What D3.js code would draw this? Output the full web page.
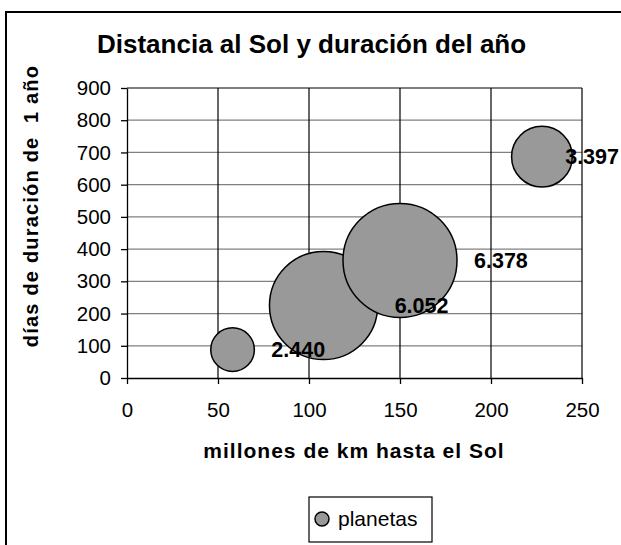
<!DOCTYPE html>
<html>
<head>
<meta charset="utf-8">
<script src="https://cdn.jsdelivr.net/npm/d3@7/dist/d3.min.js"></script>
<style>
  html, body { margin: 0; padding: 0; background: #fff; }
  svg { display: block; font-family: "Liberation Sans", Arial, sans-serif; }
</style>
</head>
<body>
<svg id="chart" width="621" height="545"></svg>
<script>
// ---- data ----
const planets   = ["Mercurio", "Venus", "Tierra", "Marte"];
const distance  = [58, 108, 150, 228];      // millones de km
const yearDays  = [88, 225, 365, 687];      // días
const radiusKm  = [2440, 6052, 6378, 3397]; // bubble size
const sizeLabels = ["2.440", "6.052", "6.378", "3.397"];
const xTicks = [0, 50, 100, 150, 200, 250];
const yTicks = [0, 100, 200, 300, 400, 500, 600, 700, 800, 900];
const titleText = "Distancia al Sol y duración del año";
const xTitle = "millones de km hasta el Sol";
const yTitle = "días de duración de  1 año";
const legendLabel = "planetas";

const svg = d3.select("#chart");

// outer chart border
svg.append("rect").attr("x", 6).attr("y", 12).attr("width", 700).attr("height", 700)
  .attr("fill", "#fff").attr("stroke", "#000").attr("stroke-width", 2);

const x = d3.scaleLinear().domain([0, 250]).range([127, 582]);
const y = d3.scaleLinear().domain([0, 900]).range([378, 88]);
const r = d3.scaleLinear().domain([0, 6378]).range([0, 57]);

// horizontal gridlines
svg.append("g").selectAll("line").data(yTicks.filter(d => d > 0 && d < 900)).join("line")
  .attr("x1", x(0)).attr("x2", x(250)).attr("y1", d => y(d)).attr("y2", d => y(d))
  .attr("stroke", "#808080").attr("stroke-width", 1.3);
// vertical gridlines
svg.append("g").selectAll("line").data(xTicks.filter(d => d > 0)).join("line")
  .attr("x1", d => x(d)).attr("x2", d => x(d)).attr("y1", y(0)).attr("y2", y(900))
  .attr("stroke", "#000").attr("stroke-width", 1.2);
// top border
svg.append("line").attr("x1", x(0)).attr("x2", x(250)).attr("y1", y(900)).attr("y2", y(900))
  .attr("stroke", "#000").attr("stroke-width", 1.2);

// axes
const yAxis = svg.append("g").attr("transform", `translate(${x(0)},0)`)
  .call(d3.axisLeft(y).tickValues(yTicks).tickSize(6).tickSizeOuter(0).tickPadding(10));
const xAxis = svg.append("g").attr("transform", `translate(0,${y(0)})`)
  .call(d3.axisBottom(x).tickValues(xTicks).tickSize(6).tickSizeOuter(0).tickPadding(18.5));
[yAxis, xAxis].forEach(g => {
  g.selectAll("path, line").attr("stroke", "#000").attr("stroke-width", 1.3);
  g.selectAll("text").attr("fill", "#000").style("font-size", "20.5px")
    .style("font-family", '"Liberation Sans", Arial, sans-serif');
});

// bubbles
const data = planets.map((p, i) => ({ p, x: distance[i], y: yearDays[i], s: radiusKm[i], l: sizeLabels[i] }));
svg.append("g").selectAll("circle").data(data).join("circle")
  .attr("cx", d => x(d.x)).attr("cy", d => y(d.y)).attr("r", d => r(d.s))
  .attr("fill", "#999999").attr("stroke", "#000").attr("stroke-width", 1.5);

// bubble labels
const labels = svg.append("g").selectAll("text").data(data).join("text")
  .attr("y", d => y(d.y)).attr("dy", "0.36em")
  .style("font-size", "21.5px").style("font-weight", "bold").attr("fill", "#000")
  .text(d => d.l);
labels.each(function(d) {
  const w = this.getComputedTextLength();
  const lx = Math.min(x(d.x) + r(d.s) + 17, 619 - w);
  d3.select(this).attr("x", lx);
});

// title
svg.append("text").attr("x", 97).attr("y", 53)
  .style("font-size", "26px").style("font-weight", "bold").text(titleText);

// x title
svg.append("text").attr("x", 354).attr("y", 458).attr("text-anchor", "middle")
  .style("font-size", "21px").style("font-weight", "bold").style("letter-spacing", "1px")
  .text(xTitle);

// y title
svg.append("text").attr("transform", "translate(38,206) rotate(-90)").attr("text-anchor", "middle")
  .style("font-size", "20px").style("font-weight", "bold").style("letter-spacing", "1.2px")
  .style("white-space", "pre").text(yTitle);

// legend
const lg = svg.append("g");
lg.append("rect").attr("x", 309).attr("y", 497).attr("width", 123).attr("height", 45)
  .attr("fill", "#fff").attr("stroke", "#000").attr("stroke-width", 1.2);
lg.append("circle").attr("cx", 322).attr("cy", 519).attr("r", 7)
  .attr("fill", "#999999").attr("stroke", "#000").attr("stroke-width", 1.5);
lg.append("text").attr("x", 338).attr("y", 526).style("font-size", "21px").text(legendLabel);
</script>
</body>
</html>
